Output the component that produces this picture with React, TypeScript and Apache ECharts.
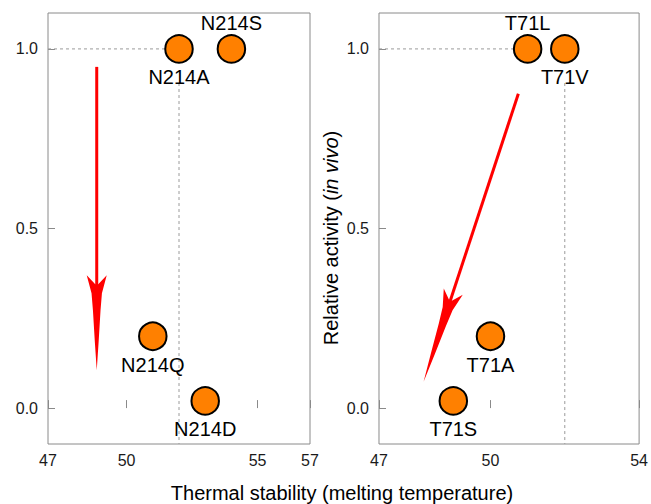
import React, { useEffect, useRef } from "react";
import * as echarts from "echarts";

// Left panel (N214 variants)
const leftNames = ["N214A", "N214S", "N214Q", "N214D"];
const leftTm = [52, 54, 51, 53];
const leftActivity = [1.0, 1.0, 0.2, 0.02];
const leftLabelSide = ["bottom", "top", "bottom", "bottom"];
const leftXTicks = [47, 50, 55, 57];
const leftArrow = [48.86, 0.95, 48.86, 0.105];
const leftGuideH = [[47, 1.0], [52, 1.0]];
const leftGuideV = [[52, 0.905], [52, -0.1]];

// Right panel (T71 variants)
const rightNames = ["T71L", "T71V", "T71A", "T71S"];
const rightTm = [51, 52, 50, 49];
const rightActivity = [1.0, 1.0, 0.2, 0.02];
const rightLabelSide = ["top", "bottom", "bottom", "bottom"];
const rightXTicks = [47, 50, 54];
const rightArrow = [50.75, 0.875, 48.2, 0.073];
const rightGuideH = [[47, 1.0], [51, 1.0]];
const rightGuideV = [[52, 0.905], [52, -0.1]];

const yTicks = [0, 0.5, 1.0];
const xTitle = "Thermal stability (melting temperature)";

const FONT = "'Liberation Sans', Arial, Helvetica, sans-serif";

function arrowRender(params: any, api: any) {
  const s = api.coord([api.value(0), api.value(1)]);
  const t = api.coord([api.value(2), api.value(3)]);
  const dx = t[0] - s[0];
  const dy = t[1] - s[1];
  const L = Math.hypot(dx, dy) || 1;
  const ux = dx / L;
  const uy = dy / L;
  const nx = -uy;
  const ny = ux;
  const p = (a: number, b: number) => [t[0] - ux * a + nx * b, t[1] - uy * a + ny * b];
  const neck = p(84, 0);
  return {
    type: "group",
    children: [
      {
        type: "line",
        shape: { x1: s[0], y1: s[1], x2: neck[0], y2: neck[1] },
        style: { stroke: "#ff0000", lineWidth: 3 },
      },
      {
        type: "polygon",
        shape: {
          points: [
            p(0, 0),
            p(30, 2),
            p(60, 3.8),
            p(77, 5.2),
            p(95, 10),
            p(86, 1.5),
            p(86, -1.5),
            p(95, -10),
            p(77, -5.2),
            p(60, -3.8),
            p(30, -2),
          ],
        },
        style: { fill: "#ff0000" },
      },
    ],
  };
}

function scatterData(names: string[], xs: number[], ys: number[], sides: string[]) {
  return names.map((n, i) => ({
    name: n,
    value: [xs[i], ys[i]],
    label: { position: sides[i], distance: sides[i] === "top" ? 1 : 3.5 },
  }));
}

function guide(data: number[][], xi: number, yi: number) {
  return {
    type: "line",
    xAxisIndex: xi,
    yAxisIndex: yi,
    data,
    symbol: "none",
    silent: true,
    z: 1,
    lineStyle: { color: "#9a9a9a", width: 1, type: [3, 3] },
  };
}

function xAxis(gridIndex: number, max: number, ticks: number[]) {
  return {
    type: "value",
    gridIndex,
    min: 47,
    max,
    splitLine: { show: false },
    axisLine: { show: false },
    axisTick: {
      show: true,
      inside: true,
      length: 8,
      customValues: ticks,
      lineStyle: { color: "#8a8a8a" },
    },
    axisLabel: {
      customValues: ticks,
      margin: 8,
      fontSize: 16,
      fontFamily: FONT,
      color: "#1a1a1a",
      showMinLabel: true,
      showMaxLabel: true,
    },
  };
}

function yAxis(gridIndex: number) {
  return {
    type: "value",
    gridIndex,
    min: -0.1,
    max: 1.1,
    splitLine: { show: false },
    axisLine: { show: false },
    axisTick: {
      show: true,
      inside: true,
      length: 7,
      customValues: yTicks,
      lineStyle: { color: "#8a8a8a" },
    },
    axisLabel: {
      customValues: yTicks,
      margin: 10,
      fontSize: 16,
      fontFamily: FONT,
      color: "#1a1a1a",
      formatter: (v: number) => v.toFixed(1),
    },
  };
}

export default function App() {
  const ref = useRef<HTMLDivElement>(null);
  useEffect(() => {
    document.body.style.margin = "0";
    if (!ref.current) return;
    const chart = echarts.init(ref.current, undefined, { renderer: "svg" });
    const scatterStyle = {
      type: "scatter",
      symbol: "circle",
      symbolSize: 27.5,
      z: 3,
      itemStyle: { color: "#ff8000", borderColor: "#000", borderWidth: 2, opacity: 1 },
      label: {
        show: true,
        formatter: "{b}",
        fontSize: 20,
        fontFamily: FONT,
        color: "#000",
      },
    };
    chart.setOption({
      animation: false,
      backgroundColor: "#fff",
      grid: [
        { left: 48, top: 13, width: 262, height: 431, show: true, borderColor: "#8a8a8a", borderWidth: 1, backgroundColor: "transparent" },
        { left: 379, top: 13, width: 262, height: 431, show: true, borderColor: "#8a8a8a", borderWidth: 1, backgroundColor: "transparent" },
      ],
      xAxis: [xAxis(0, 57, leftXTicks), xAxis(1, 54, rightXTicks)],
      yAxis: [yAxis(0), yAxis(1)],
      graphic: [
        {
          type: "text",
          x: 342,
          y: 493,
          style: {
            text: xTitle,
            fontSize: 20,
            fontFamily: FONT,
            fill: "#000",
            align: "center",
            verticalAlign: "middle",
          },
        },
        {
          type: "text",
          x: 331,
          y: 238,
          rotation: Math.PI / 2,
          style: {
            text: "{a|Relative activity (}{b|in vivo}{a|)}",
            align: "center",
            verticalAlign: "middle",
            rich: {
              a: { fontSize: 20, fontFamily: FONT, fill: "#000", color: "#000" },
              b: { fontSize: 20, fontFamily: FONT, fontStyle: "italic", fill: "#000", color: "#000" },
            },
          },
        },
      ],
      series: [
        guide(leftGuideH, 0, 0),
        guide(leftGuideV, 0, 0),
        guide(rightGuideH, 1, 1),
        guide(rightGuideV, 1, 1),
        {
          type: "custom",
          xAxisIndex: 0,
          yAxisIndex: 0,
          z: 2,
          silent: true,
          encode: { x: [0, 2], y: [1, 3] },
          renderItem: arrowRender,
          data: [leftArrow],
        },
        {
          type: "custom",
          xAxisIndex: 1,
          yAxisIndex: 1,
          z: 2,
          silent: true,
          encode: { x: [0, 2], y: [1, 3] },
          renderItem: arrowRender,
          data: [rightArrow],
        },
        {
          ...scatterStyle,
          xAxisIndex: 0,
          yAxisIndex: 0,
          data: scatterData(leftNames, leftTm, leftActivity, leftLabelSide),
        },
        {
          ...scatterStyle,
          xAxisIndex: 1,
          yAxisIndex: 1,
          data: scatterData(rightNames, rightTm, rightActivity, rightLabelSide),
        },
      ],
    });
    return () => chart.dispose();
  }, []);
  return (
    <div
      ref={ref}
      style={{ position: "absolute", left: 0, top: 0, width: 651, height: 504 }}
    />
  );
}
